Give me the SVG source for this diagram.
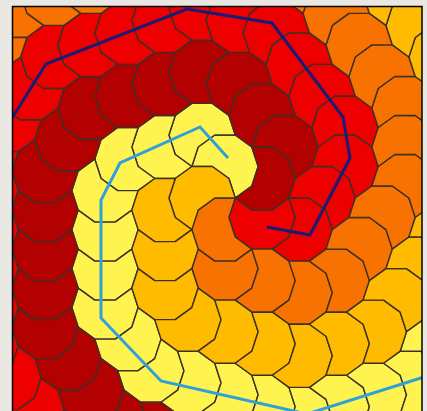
<svg xmlns="http://www.w3.org/2000/svg" xmlns:xlink="http://www.w3.org/1999/xlink" width="427" height="411" viewBox="0 0 427 411">
<style>
.t{stroke:#3b3025;stroke-width:1.4;stroke-linejoin:round}
.yel{fill:#fff44f}.gol{fill:#ffbb00}.ora{fill:#f77200}.red{fill:#ee0000}.dre{fill:#b30000}
.path{fill:none;stroke-width:3;stroke-linejoin:miter}
</style>
<defs>
<path id="tile" class="t" d="M-26.835,-19.497 L-33.17,0 L-26.835,19.497 L-10.25,31.546 L10.25,31.546 L26.835,19.497 L33.17,0 L26.835,-19.497 L10.25,-7.447 L-10.25,-7.447 Z"/>
<g id="arm">
<use href="#tile" transform="translate(-10.25,-31.546) rotate(-144)"/>
<use href="#tile" transform="translate(-33.17,-63.092) rotate(144)"/>
<use href="#tile" transform="translate(-70.255,-51.042) rotate(72)"/>
<use href="#tile" transform="translate(-107.34,-38.992) rotate(72)"/>
<use href="#tile" transform="translate(-130.26,-7.446) rotate(36)"/>
<use href="#tile" transform="translate(-130.26,31.547)"/>
<use href="#tile" transform="translate(-130.26,70.54)"/>
<use href="#tile" transform="translate(-130.26,109.533)"/>
<use href="#tile" transform="translate(-107.34,141.079) rotate(-36)"/>
<use href="#tile" transform="translate(-84.42,172.625) rotate(-36)"/>
<use href="#tile" transform="translate(-47.335,184.675) rotate(-72)"/>
<use href="#tile" transform="translate(-10.25,196.725) rotate(-72)"/>
<use href="#tile" transform="translate(26.835,208.775) rotate(-72)"/>
<use href="#tile" transform="translate(63.92,220.825) rotate(-72)"/>
<use href="#tile" transform="translate(101.005,208.775) rotate(-108)"/>
<use href="#tile" transform="translate(138.09,196.725) rotate(-108)"/>
<use href="#tile" transform="translate(175.175,184.675) rotate(-108)"/>
<use href="#tile" transform="translate(198.095,153.129) rotate(-144)"/>
<use href="#tile" transform="translate(221.015,121.583) rotate(-144)"/>
<use href="#tile" transform="translate(243.935,90.037) rotate(-144)"/>
<use href="#tile" transform="translate(266.855,58.491) rotate(-144)"/>
<use href="#tile" transform="translate(289.775,26.945) rotate(-144)"/>
<use href="#tile" transform="translate(289.775,-12.048) rotate(180)"/>
<use href="#tile" transform="translate(289.775,-51.041) rotate(180)"/>
<use href="#tile" transform="translate(289.775,-90.034) rotate(180)"/>
<use href="#tile" transform="translate(289.775,-129.027) rotate(180)"/>
<use href="#tile" transform="translate(266.855,-160.573) rotate(144)"/>
<use href="#tile" transform="translate(243.935,-192.119) rotate(144)"/>
<use href="#tile" transform="translate(221.015,-223.665) rotate(144)"/>
<use href="#tile" transform="translate(198.095,-255.211) rotate(144)"/>
<use href="#tile" transform="translate(175.175,-286.757) rotate(144)"/>
<use href="#tile" transform="translate(152.255,-318.303) rotate(144)"/>
</g>
<clipPath id="plot"><rect x="12.5" y="6.5" width="409.5" height="410"/></clipPath>
</defs>
<rect x="0" y="0" width="427" height="411" fill="#eae8e3"/>
<g clip-path="url(#plot)">
<rect x="12.5" y="6.5" width="409.5" height="410" fill="#ffffff"/>
<g id="tiling" transform="translate(235.25,198.05)">
<use href="#arm" class="yel"/>
<use href="#arm" class="dre" transform="rotate(72)"/>
<use href="#arm" class="red" transform="rotate(144)"/>
<use href="#arm" class="ora" transform="rotate(216)"/>
<use href="#arm" class="gol" transform="rotate(288)"/>
</g>
<g id="connectors">
<polyline class="path" stroke="#2fa0dc" points="228,158 200,127 120,163 101,200 101,318 161,381 307,414 440,372"/>
<polyline class="path" stroke="#1c1a72" points="267,227 310,235 350,158 343,117 272,23 187,9 46,64 0,137"/>
</g>
</g>
<rect x="12.5" y="6.5" width="409.5" height="412" fill="none" stroke="#000" stroke-width="1.5"/>
</svg>
